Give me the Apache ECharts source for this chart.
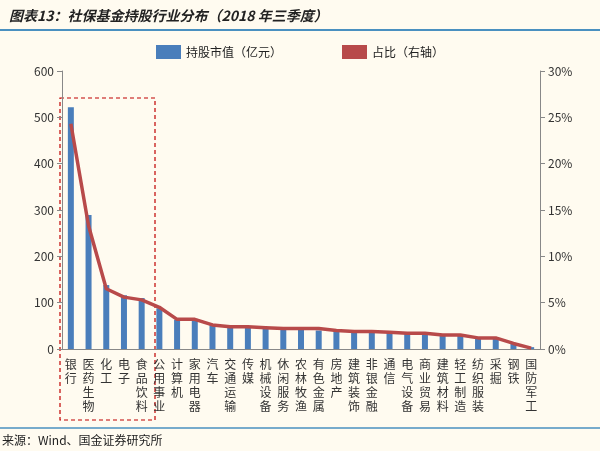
<!DOCTYPE html><html><head><meta charset="utf-8"><script src="https://cdn.jsdelivr.net/npm/echarts@6/dist/echarts.min.js"></script>
<style>body{margin:0;background:#fffbf0}#c{width:600px;height:451px}</style></head><body><div id="c"></div><script>
const categories=['银行','医药生物','化工','电子','食品饮料','公用事业','计算机','家用电器','汽车','交通运输','传媒','机械设备','休闲服务','农林牧渔','有色金属','房地产','建筑装饰','非银金融','通信','电气设备','商业贸易','建筑材料','轻工制造','纺织服装','采掘','钢铁','国防军工'];
const marketValue=[522,289,138,116,110,88,63,65,53,49,47,45,43,42,40,40,38,38,36,35,33,30,30,24,25,13,4];
const share=[24.3,13.3,6.5,5.6,5.3,4.5,3.2,3.2,2.6,2.4,2.4,2.3,2.2,2.2,2.2,2.0,1.9,1.9,1.8,1.7,1.7,1.5,1.5,1.2,1.2,0.6,0.1];
const leftTicks=[0,100,200,300,400,500,600];
const f='"Noto Sans CJK SC"';
const c=echarts.init(document.getElementById('c'));
c.setOption({backgroundColor:'#fffbf0',textStyle:{fontFamily:f},
title:{text:'图表13：社保基金持股行业分布（2018 年三季度）',left:4,top:4,textStyle:{fontSize:14,fontStyle:'italic',fontWeight:'bold',color:'#222'}},
legend:{top:40,left:'center',itemGap:60,textStyle:{fontSize:12,color:'#222'},data:[{name:'持股市值（亿元）',icon:'rect',itemWidth:24,itemHeight:8},{name:'占比（右轴）',icon:'rect',itemHeight:4,itemWidth:50}]},
grid:{left:62,right:60,top:71,bottom:102},
xAxis:{type:'category',data:categories,axisLine:{lineStyle:{color:'#888'}},axisTick:{lineStyle:{color:'#888'}},
 axisLabel:{interval:0,color:'#333',fontSize:12,lineHeight:14,formatter:v=>v.split('').join('\n')}},
yAxis:[{type:'value',min:0,max:600,interval:100,splitLine:{show:false},axisLine:{show:true,lineStyle:{color:'#888'}},axisTick:{show:true},axisLabel:{color:'#333',fontSize:12}},
 {type:'value',min:0,max:30,interval:5,splitLine:{show:false},axisLine:{show:true,lineStyle:{color:'#888'}},axisTick:{show:true},axisLabel:{color:'#333',fontSize:12,formatter:'{value}%'}}],
series:[{name:'持股市值（亿元）',type:'bar',data:marketValue,barWidth:6,itemStyle:{color:'#4a7ebb'}},
 {name:'占比（右轴）',type:'line',yAxisIndex:1,data:share,symbol:'none',lineStyle:{color:'#b84a4a',width:3.5},itemStyle:{color:'#b84a4a'}}],
graphic:[{type:'line',shape:{x1:0,y1:30,x2:600,y2:30},style:{stroke:'#4a90c0',lineWidth:2}},
 {type:'line',shape:{x1:0,y1:428,x2:600,y2:428},style:{stroke:'#4a90c0',lineWidth:1.5}},
 {type:'rect',shape:{x:60,y:98,width:95,height:322},style:{fill:'none',stroke:'#c00000',lineWidth:1.2,lineDash:[4,3]}},
 {type:'text',left:2,top:434,style:{text:'来源：Wind、国金证券研究所',fontSize:12,fill:'#222',fontFamily:f}}]});
</script></body></html>
